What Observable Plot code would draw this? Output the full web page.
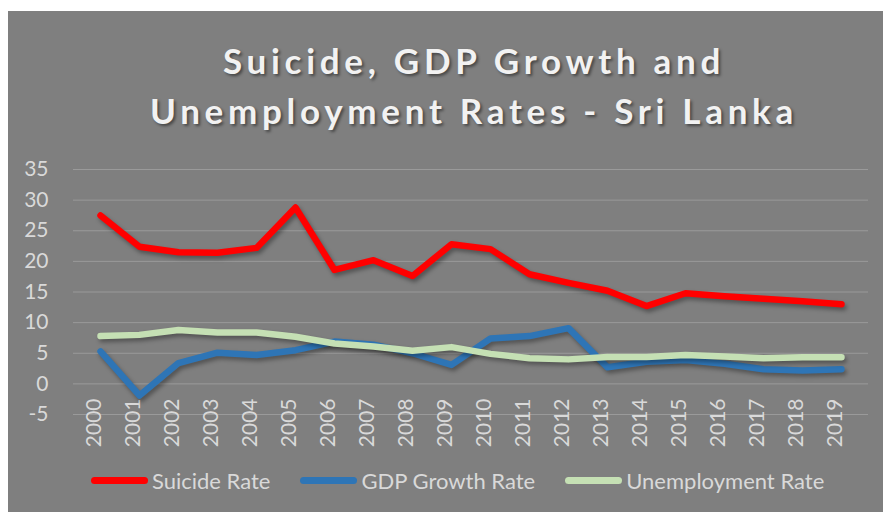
<!DOCTYPE html>
<html>
<head>
<meta charset="utf-8">
<script src="https://cdn.jsdelivr.net/npm/d3@7"></script>
<script src="https://cdn.jsdelivr.net/npm/@observablehq/plot@0.6"></script>
<style>
  html, body { margin: 0; padding: 0; background: #ffffff; }
  #chart { position: absolute; left: 8px; top: 11px; width: 875px; height: 501px; background: #7f7f7f; overflow: hidden; font-family: Lato, sans-serif; }
  #title { position: absolute; left: 0; top: 24px; width: 932px; text-align: center; color: #f2f2f2; font-weight: bold; font-size: 35px; line-height: 50px; letter-spacing: 4.7px; text-shadow: 2px 2px 3px rgba(0,0,0,0.45); }
  #plot { position: absolute; left: 0; top: 0; }
  #plot g[aria-label="line"] path { filter: drop-shadow(2px 3px 2px rgba(0,0,0,0.35)); }
  #legend { position: absolute; left: 83px; top: 456px; display: flex; align-items: center; gap: 30px; color: #d9d9d9; font-size: 22px; }
  .item { display: flex; align-items: center; gap: 4px; }
  .swatch { width: 57px; height: 7px; border-radius: 4px; }
</style>
</head>
<body>
<div id="chart">
  <div id="plot"></div>
  <div id="title">Suicide, GDP Growth and<br>Unemployment Rates - Sri Lanka</div>
  <div id="legend"></div>
</div>
<script>
const years = [2000,2001,2002,2003,2004,2005,2006,2007,2008,2009,2010,2011,2012,2013,2014,2015,2016,2017,2018,2019];
const suicideRate = [27.5,22.4,21.5,21.4,22.2,28.8,18.6,20.2,17.6,22.8,22.0,17.9,16.5,15.2,12.7,14.8,14.3,13.9,13.5,13.0];
const gdpGrowthRate = [5.3,-1.9,3.4,5.1,4.7,5.5,6.9,6.4,5.0,3.1,7.4,7.8,9.1,2.7,3.6,3.9,3.3,2.4,2.2,2.4];
const unemploymentRate = [7.8,8.0,8.8,8.4,8.4,7.7,6.6,6.1,5.4,6.0,4.9,4.2,4.0,4.4,4.4,4.7,4.45,4.2,4.35,4.35];
const seriesNames = ["Suicide Rate","GDP Growth Rate","Unemployment Rate"];
const seriesColors = ["#ff0000","#2e75b6","#c5e0b4"];
const yTicks = [-5,0,5,10,15,20,25,30,35];

const seriesValues = [suicideRate, gdpGrowthRate, unemploymentRate];
const rows = [];
seriesNames.forEach((name, i) => {
  years.forEach((yr, j) => rows.push({series: name, year: yr, value: seriesValues[i][j]}));
});

const chart = Plot.plot({
  width: 875,
  height: 501,
  marginTop: 158,
  marginBottom: 98,
  marginLeft: 65,
  marginRight: 15,
  style: {background: "transparent", color: "#d9d9d9", fontFamily: "Lato, sans-serif", fontSize: "21px", overflow: "visible"},
  x: {type: "point", domain: years, padding: 0.5, axis: null},
  y: {domain: [-5, 35], axis: null},
  color: {domain: seriesNames, range: seriesColors},
  marks: [
    Plot.ruleY(yTicks, {stroke: "#9a9a9a", strokeWidth: 1}),
    Plot.axisY({ticks: yTicks, tickSize: 0, tickPadding: 25, tickFormat: d => String(d), fontSize: 21, fill: "#d9d9d9", label: null}),
    Plot.text(years, {x: d => d, frameAnchor: "bottom", dy: -16, rotate: -90, textAnchor: "end", text: d => String(d), fontSize: 21, fill: "#d9d9d9"}),
    Plot.line(rows, {x: "year", y: "value", z: "series", stroke: "series", strokeWidth: 6.5, strokeLinejoin: "round", strokeLinecap: "round"})
  ]
});
document.getElementById("plot").appendChild(chart);

const legend = document.getElementById("legend");
seriesNames.forEach((name, i) => {
  const item = document.createElement("div");
  item.className = "item";
  const sw = document.createElement("div");
  sw.className = "swatch";
  sw.style.background = seriesColors[i];
  const label = document.createElement("span");
  label.textContent = name;
  item.appendChild(sw);
  item.appendChild(label);
  legend.appendChild(item);
});
</script>
</body>
</html>
